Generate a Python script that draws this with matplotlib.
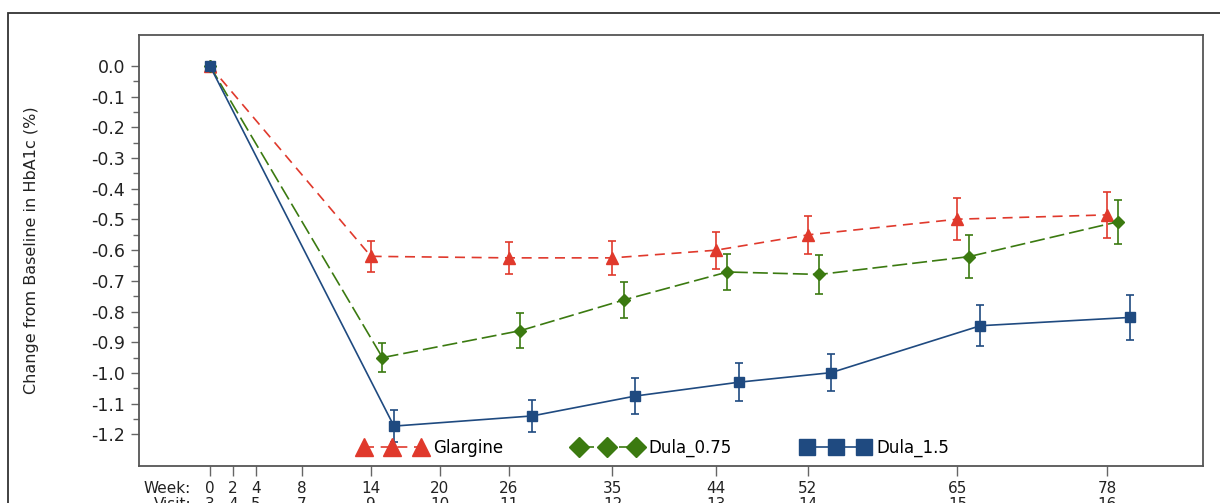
import numpy as np
import matplotlib
matplotlib.use("Agg")
import matplotlib.pyplot as plt
from matplotlib.patches import Rectangle
from matplotlib.ticker import FixedLocator, FormatStrFormatter

plt.rcParams['font.family'] = ['DejaVu Sans']

# values
weeks = [0, 14, 26, 35, 44, 52, 65, 78]
glargine = [0.0, -0.620, -0.625, -0.625, -0.600, -0.550, -0.499, -0.485]
glargine_err = [0.0, 0.050, 0.053, 0.055, 0.060, 0.063, 0.068, 0.074]
dula075 = [0.0, -0.950, -0.862, -0.762, -0.671, -0.679, -0.621, -0.507]
dula075_err = [0.0, 0.048, 0.056, 0.059, 0.058, 0.064, 0.069, 0.072]
dula15 = [0.0, -1.173, -1.140, -1.075, -1.030, -0.999, -0.846, -0.819]
dula15_err = [0.0, 0.052, 0.052, 0.058, 0.061, 0.061, 0.067, 0.072]

week_ticks = [0, 2, 4, 8, 14, 20, 26, 35, 44, 52, 65, 78]
visit_ticks = [3, 4, 5, 7, 9, 10, 11, 12, 13, 14, 15, 16]

red = '#e0392c'
green = '#3b7a10'
blue = '#1f4a80'

fig = plt.figure(figsize=(12.2, 5.03), dpi=100)
ax = fig.add_axes([139/1220, 1-466/503, 1064/1220, 431/503])

# outer frame of the graph
fig.patches.append(Rectangle((8/1220, -0.2), 1.2, 0.2 + 1 - 13/503, transform=fig.transFigure,
                             fill=False, edgecolor='#333333', lw=1.3, clip_on=False))

wk = np.array(weeks, dtype=float)
def shift(d):
    # small horizontal jitter per group (not at baseline)
    return np.where(wk > 0, wk + d, wk)

c1 = ax.errorbar(wk, glargine, yerr=glargine_err, color=red, marker='^', ms=8,
                 ls=(0, (6, 4)), lw=1.2, elinewidth=1.2, capsize=3, capthick=1.2,
                 label='Glargine', zorder=3)
c2 = ax.errorbar(shift(1), dula075, yerr=dula075_err, color=green, marker='D', ms=6.5,
                 ls=(0, (9, 3)), lw=1.2, elinewidth=1.2, capsize=3, capthick=1.2,
                 label='Dula_0.75', zorder=4)
c3 = ax.errorbar(shift(2), dula15, yerr=dula15_err, color=blue, marker='s', ms=7.5,
                 ls='-', lw=1.2, elinewidth=1.2, capsize=3, capthick=1.2,
                 label='Dula_1.5', zorder=5)

ax.set_xlim(-6.17, 86.35)
ax.set_ylim(-1.303, 0.101)

y_ticks = np.round(np.arange(-1.2, 0.001, 0.1), 1)
ax.yaxis.set_major_locator(FixedLocator(y_ticks))
ax.yaxis.set_minor_locator(FixedLocator(y_ticks[:-1] + 0.05))
ax.yaxis.set_major_formatter(FormatStrFormatter('%.1f'))
ax.tick_params(axis='y', which='major', length=6, width=1, color='#666666',
               labelsize=12.5, labelcolor='#222222', pad=4)
ax.tick_params(axis='y', which='minor', length=4, width=1, color='#666666')

ax.set_xticks(week_ticks)
ax.set_xticklabels([f'{w}\n{v}' for w, v in zip(week_ticks, visit_ticks)])
ax.tick_params(axis='x', length=7, width=1, color='#666666', labelsize=11,
               labelcolor='#222222', pad=4)
for t in ax.get_xticklabels():
    t.set_linespacing(1.1)
ax.annotate('Week:\nVisit:', xy=(0.049, 0), xycoords='axes fraction', xytext=(0, -11),
            textcoords='offset points', ha='right', va='top', fontsize=11,
            color='#222222', linespacing=1.1, annotation_clip=False)

for s in ax.spines.values():
    s.set_color('#555555')
    s.set_linewidth(1.3)

ax.set_ylabel('Change from Baseline in HbA1c (%)', fontsize=11.5, color='#222222')
ax.yaxis.set_label_coords(-0.094, 0.5)

# legend from the plain data lines (no error bars in the keys)
ax.legend(handles=[c1[0], c2[0], c3[0]], labels=['Glargine', 'Dula_0.75', 'Dula_1.5'],
          loc='center left', bbox_to_anchor=(0.2065, 0.042), ncol=3, numpoints=3,
          frameon=False, markerscale=1.6, handlelength=4.05, handletextpad=0.44,
          columnspacing=4.2, fontsize=12, borderpad=0, borderaxespad=0)

fig.savefig('out.png', dpi=100)
